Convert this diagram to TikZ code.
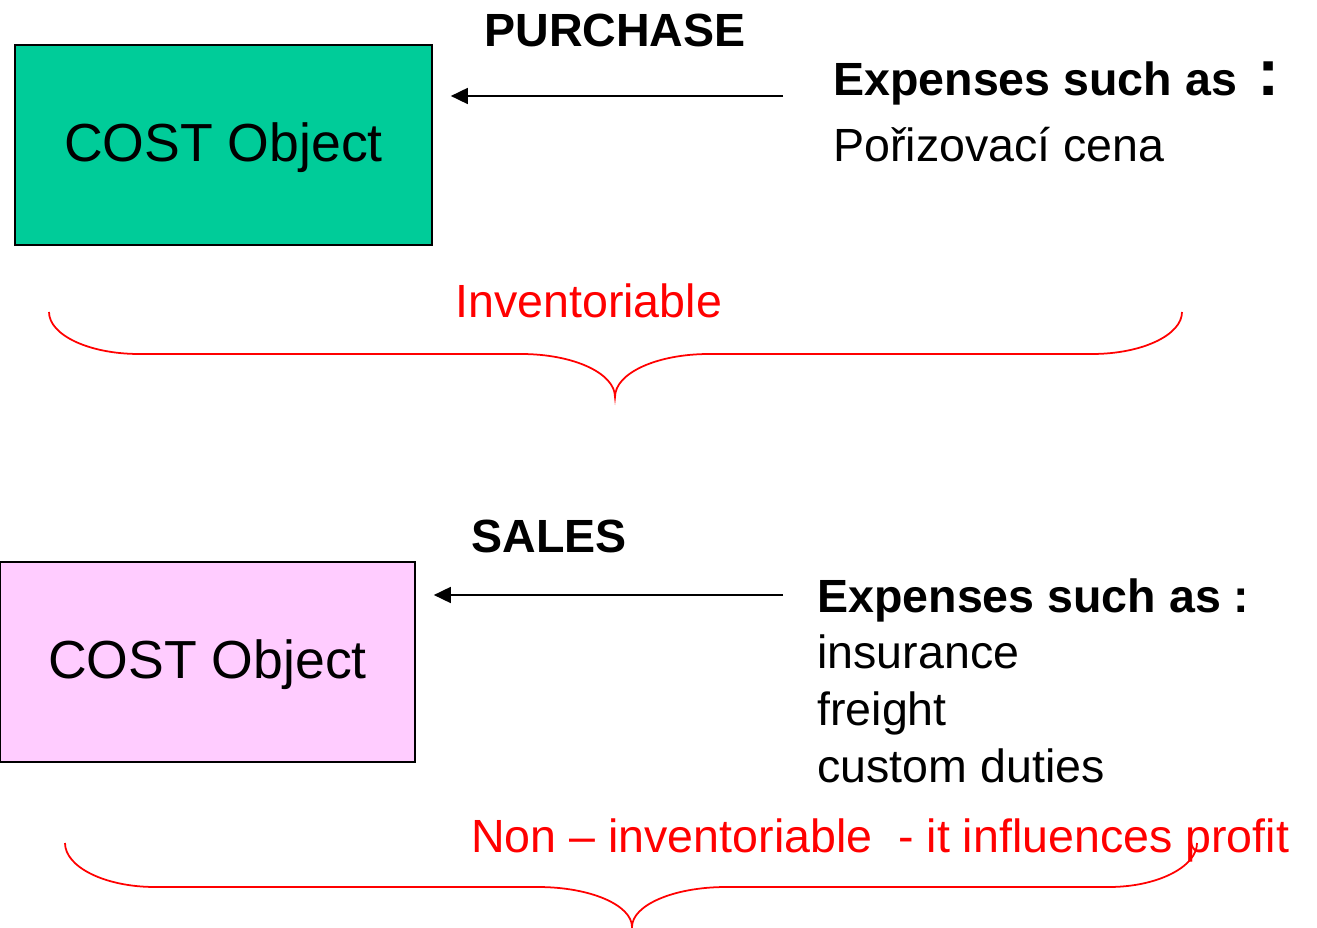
\documentclass[tikz,border=0pt]{standalone}
\usepackage{fontspec}
\setmainfont{Liberation Sans}
\usepackage{tikz}
\usetikzlibrary{arrows.meta,positioning,calc}
\definecolor{grn}{HTML}{00CC99}
\definecolor{pnk}{HTML}{FFCCFF}
\definecolor{rd}{HTML}{FF0000}
\tikzset{
  costbox/.style={draw=black, line width=1pt, minimum height=4cm, inner sep=0pt, font=\fontsize{30.5}{36}\selectfont},
  txt/.style={anchor=base west, inner sep=0pt, font=\fontsize{26.5}{32}\selectfont},
  head/.style={txt, font=\fontsize{26.5}{32}\selectfont\bfseries},
  arr/.style={-{Triangle[length=0.34cm,width=0.32cm]}, line width=1pt, shorten >=0.36cm},
  curly/.style={rd, line width=1pt},
}

\begin{document}
\begin{tikzpicture}[x=0.02cm, y=-0.02cm]
 \useasboundingbox (0,0) rectangle (1317,928);
 % (a) purchase
 \begin{scope}
  \node[costbox, fill=grn, minimum width=8.34cm, text depth=0.1cm] (cost1) at (223.5,145) {COST Object};
  \node[head] (purch) at (484,47) {PURCHASE};
  \node[head] (exp1) at (833,96) {Expenses such as\ \,{\fontsize{38}{40}\selectfont :}};
  \node[txt] (price) at (833,162) {Pořizovací cena};
  \coordinate (src1) at (783,96);
  \draw[arr] (src1) -- (cost1.east |- src1);
  \node[txt, rd] (inv) at (455,318) {Inventoriable};
  \draw[curly] (49,312) .. controls (49,335) and (89,354) .. (139,354) -- (521,354)
    .. controls (573,354) and (615,373) .. (615,397)
    .. controls (615,373) and (657,354) .. (709,354) -- (1092,354)
    .. controls (1142,354) and (1182,335) .. (1182,312);
 \end{scope}
 % (b) sales
 \begin{scope}
  \node[costbox, fill=pnk, minimum width=8.3cm, text depth=0.1cm] (cost2) at (207.5,662) {COST Object};
  \node[head] (sales) at (471,552) {SALES};
  \node[head] (exp2) at (817,612) {Expenses such as :};
  \node[txt] (ins) at (817,668) {insurance};
  \node[txt] (frt) at (817,725) {freight};
  \node[txt] (duty) at (817,782) {custom duties};
  \coordinate (src2) at (783,595);
  \draw[arr] (src2) -- (cost2.east |- src2);
  \node[txt, rd] (noninv) at (471,852) {Non – inventoriable\ \ - it influences profit};
  \draw[curly] (65,843) .. controls (65,867) and (105,887) .. (155,887) -- (538,887)
    .. controls (590,887) and (632,905) .. (632,927)
    .. controls (632,905) and (674,887) .. (726,887) -- (1109,887)
    .. controls (1157,887) and (1197,867) .. (1197,843);
 \end{scope}
\end{tikzpicture}
\end{document}
